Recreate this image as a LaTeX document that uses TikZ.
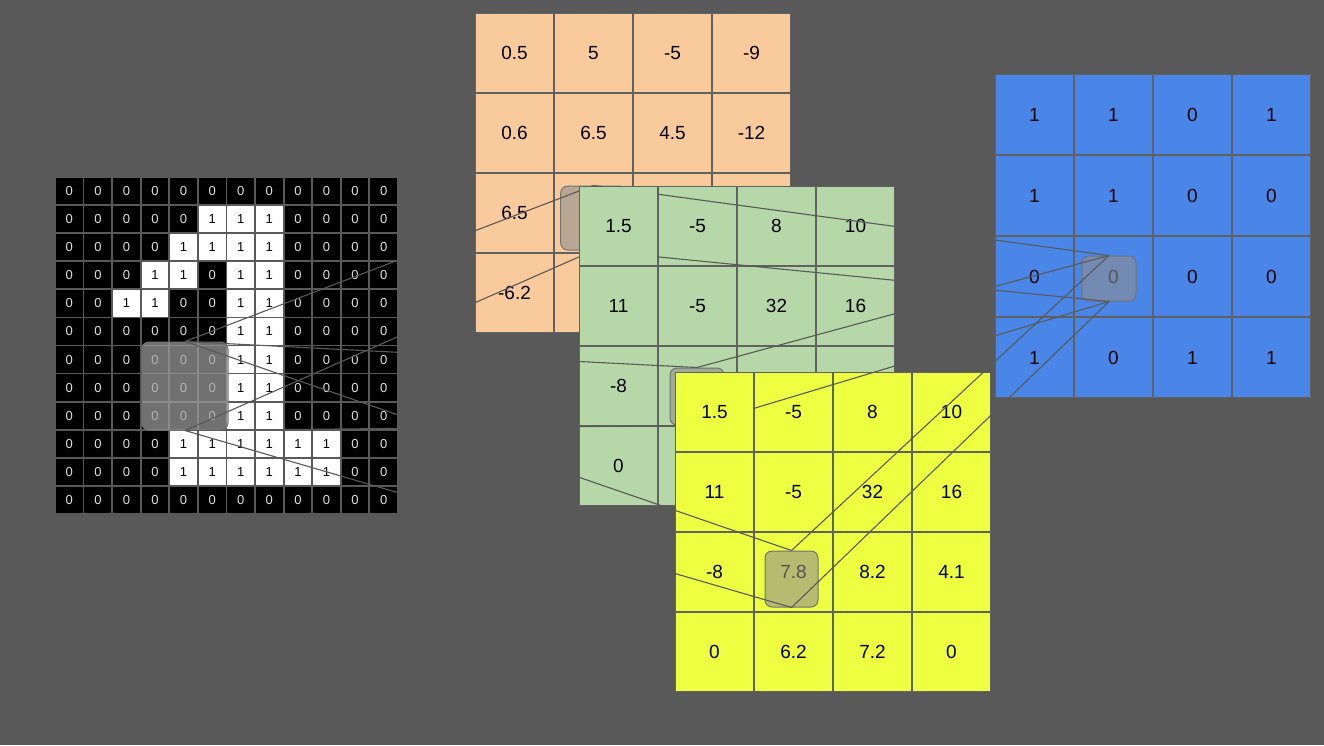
\documentclass[tikz,border=0pt]{standalone}
\usepackage{fontspec}
\setmainfont{Liberation Sans}
\definecolor{bgc}{HTML}{595959}
\definecolor{gridc}{HTML}{616161}
\definecolor{orangec}{HTML}{F9CB9C}
\definecolor{greenc}{HTML}{B6D7A8}
\definecolor{yellowc}{HTML}{EEFF41}
\definecolor{bluec}{HTML}{4A86E8}
\definecolor{winc}{HTML}{8F8F8F}
\tikzset{
  cell/.style={inner sep=0pt, outer sep=0pt, minimum width=77pt, minimum height=78pt, font=\fontsize{19}{19}\selectfont},
  bit0/.style={fill=black, text=white!88!black, inner sep=0pt, outer sep=0pt, minimum width=26.8pt, minimum height=26.3pt, font=\fontsize{13}{13}\selectfont},
  bit1/.style={bit0, fill=white, text=black},
  win/.style={draw=bgc!85!white, line width=1pt, fill=winc, fill opacity=0.6, rounded corners=7pt, inner sep=0pt},
  winbin/.style={win, fill=white!63!black, fill opacity=0.7},
  ray/.style={draw=bgc, line width=1.1pt},
}
\begin{document}
\begin{tikzpicture}[x=1pt,y=-1pt]
\useasboundingbox (0,0) rectangle (1324,745);
\fill[bgc] (0,0) rectangle (1324,745);
% blue layer
\fill[gridc] (995,74) rectangle (1311,398);
\foreach \row [count=\r from 0] in {{1,1,0,1},{1,1,0,0},{0,0,0,0},{1,0,1,1}}
  \foreach \v [count=\c from 0] in \row
    \node[cell, fill=bluec, minimum height=79pt] (u-\r-\c) at ({995+(\c+0.5)*79},{74+(\r+0.5)*81}) {\v};
\node[win, minimum width=54pt, minimum height=45pt] (wu) at (1109,278.5) {};
% input image
\foreach \row [count=\r from 0] in {
  {0,0,0,0,0,0,0,0,0,0,0,0},
  {0,0,0,0,0,1,1,1,0,0,0,0},
  {0,0,0,0,1,1,1,1,0,0,0,0},
  {0,0,0,1,1,0,1,1,0,0,0,0},
  {0,0,1,1,0,0,1,1,0,0,0,0},
  {0,0,0,0,0,0,1,1,0,0,0,0},
  {0,0,0,0,0,0,1,1,0,0,0,0},
  {0,0,0,0,0,0,1,1,0,0,0,0},
  {0,0,0,0,0,0,1,1,0,0,0,0},
  {0,0,0,0,1,1,1,1,1,1,0,0},
  {0,0,0,0,1,1,1,1,1,1,0,0},
  {0,0,0,0,0,0,0,0,0,0,0,0}}
  \foreach \v [count=\c from 0] in \row
    \node[bit\v] (b-\r-\c) at ({55+(\c+0.5)*28.58},{177+(\r+0.5)*28.08}) {\v};
\node[winbin, minimum width=86pt, minimum height=88pt] (wb) at (185,386) {};
% orange layer
\fill[gridc] (475,13) rectangle (791,333);
\foreach \row [count=\r from 0] in {{0.5,5,-5,-9},{0.6,6.5,4.5,-12},{6.5,{},{},{}},{-6.2,{},{},{}}}
  \foreach \v [count=\c from 0] in \row
    \node[cell, fill=orangec] (o-\r-\c) at ({475+(\c+0.5)*79},{13+(\r+0.5)*80}) {\v};
\node[win, minimum width=65.6pt, minimum height=64pt] (wo) at (593.5,218) {};
\draw[ray] (wb.north) -- (wo.north);
\draw[ray] (wb.south) -- (wo.south);
% green layer
\fill[gridc] (579,186) rectangle (895,506);
\foreach \row [count=\r from 0] in {{1.5,-5,8,10},{11,-5,32,16},{-8,{},{},{}},{0,{},{},{}}}
  \foreach \v [count=\c from 0] in \row
    \node[cell, fill=greenc] (g-\r-\c) at ({579+(\c+0.5)*79},{186+(\r+0.5)*80}) {\v};
\node[win, minimum width=54pt, minimum height=57pt] (wg) at (697,396.5) {};
\draw[ray] (wb.north) -- (wg.north);
\draw[ray] (wb.south) -- (wg.south);
\draw[ray] (wo.north) -- (wu.north);
\draw[ray] (wo.south) -- (wu.south);
\node[cell, fill=greenc] (g-first) at (g-0-0) {1.5};
% yellow layer
\fill[gridc] (675,372) rectangle (991,692);
\foreach \row [count=\r from 0] in {{1.5,-5,8,10},{11,-5,32,16},{-8,7.8,8.2,4.1},{0,6.2,7.2,0}}
  \foreach \v [count=\c from 0] in \row
    \node[cell, fill=yellowc] (y-\r-\c) at ({675+(\c+0.5)*79},{372+(\r+0.5)*80}) {\v};
\node[win, minimum width=53pt, minimum height=56pt] (wy) at (791.5,579) {};
\draw[ray] (wb.north) -- (wy.north);
\draw[ray] (wb.south) -- (wy.south);
\draw[ray] (wg.north) -- (wu.north);
\draw[ray] (wg.south) -- (wu.south);
\draw[ray] (wy.north) -- (wu.north);
\draw[ray] (wy.south) -- (wu.south);
\node[cell, fill=yellowc] (y-first) at (y-0-0) {1.5};
\end{tikzpicture}
\end{document}
